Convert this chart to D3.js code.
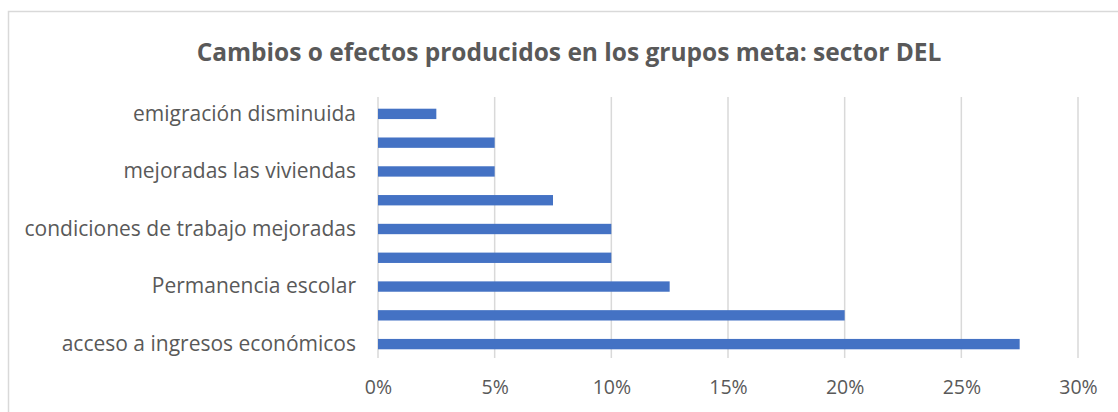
<!DOCTYPE html>
<html lang="es">
<head>
<meta charset="utf-8">
<script src="https://d3js.org/d3.v7.min.js"></script>
<style>
  body { margin: 0; background: #fff; }
  .axis text { fill: #595959; }
</style>
</head>
<body>
<svg width="1118" height="412"></svg>
<script>
// categories from bottom to top; unlabelled rows are skipped by the chart
var categories = [
  "acceso a ingresos económicos", "", "Permanencia escolar", "",
  "condiciones de trabajo mejoradas", "", "mejoradas las viviendas", "",
  "emigración disminuida"
];
var values = [0.275, 0.20, 0.125, 0.10, 0.10, 0.075, 0.05, 0.05, 0.025];
var xTicks = [0, 0.05, 0.10, 0.15, 0.20, 0.25, 0.30];
var title = "Cambios o efectos producidos en los grupos meta: sector DEL";

var font = "'Open Sans', sans-serif";
var svg = d3.select("svg");

// chart border
svg.append("rect")
  .attr("x", 8.5).attr("y", 11.5)
  .attr("width", 1200).attr("height", 500)
  .attr("fill", "none").attr("stroke", "#d9d9d9").attr("stroke-width", 1.5);

svg.append("text")
  .attr("x", 569).attr("y", 61)
  .attr("text-anchor", "middle")
  .attr("font-family", font).attr("font-weight", "700").attr("font-size", "24.5px")
  .attr("fill", "#595959")
  .text(title);

var x = d3.scaleLinear().domain([0, 0.30]).range([378, 1078]);
var y = d3.scaleBand()
  .domain(d3.range(categories.length))
  .range([358.5, 99.5])
  .paddingInner(0.64).paddingOuter(0.32);

// gridlines
svg.append("g").selectAll("line")
  .data(xTicks)
  .join("line")
  .attr("x1", d => x(d)).attr("x2", d => x(d))
  .attr("y1", 97).attr("y2", 358)
  .attr("stroke", "#d9d9d9").attr("stroke-width", 1.5);

svg.append("g").selectAll("rect")
  .data(values)
  .join("rect")
  .attr("x", x(0))
  .attr("y", (d, i) => y(i))
  .attr("width", d => x(d) - x(0))
  .attr("height", y.bandwidth())
  .attr("fill", "#4472c4");

var xAxis = d3.axisBottom(x)
  .tickValues(xTicks)
  .tickFormat(d3.format(".0%"))
  .tickSize(0).tickPadding(22);

svg.append("g")
  .attr("class", "axis")
  .attr("transform", "translate(0,358)")
  .call(xAxis)
  .call(g => g.select(".domain").remove())
  .selectAll("text")
  .attr("font-family", font).attr("font-size", "19.5px");

var yAxis = d3.axisLeft(y)
  .tickFormat(i => categories[i])
  .tickSize(0).tickPadding(22);

svg.append("g")
  .attr("class", "axis")
  .attr("transform", "translate(" + x(0) + ",0)")
  .call(yAxis)
  .call(g => g.select(".domain").remove())
  .selectAll("text")
  .attr("font-family", font).attr("font-size", "21px");
</script>
</body>
</html>
